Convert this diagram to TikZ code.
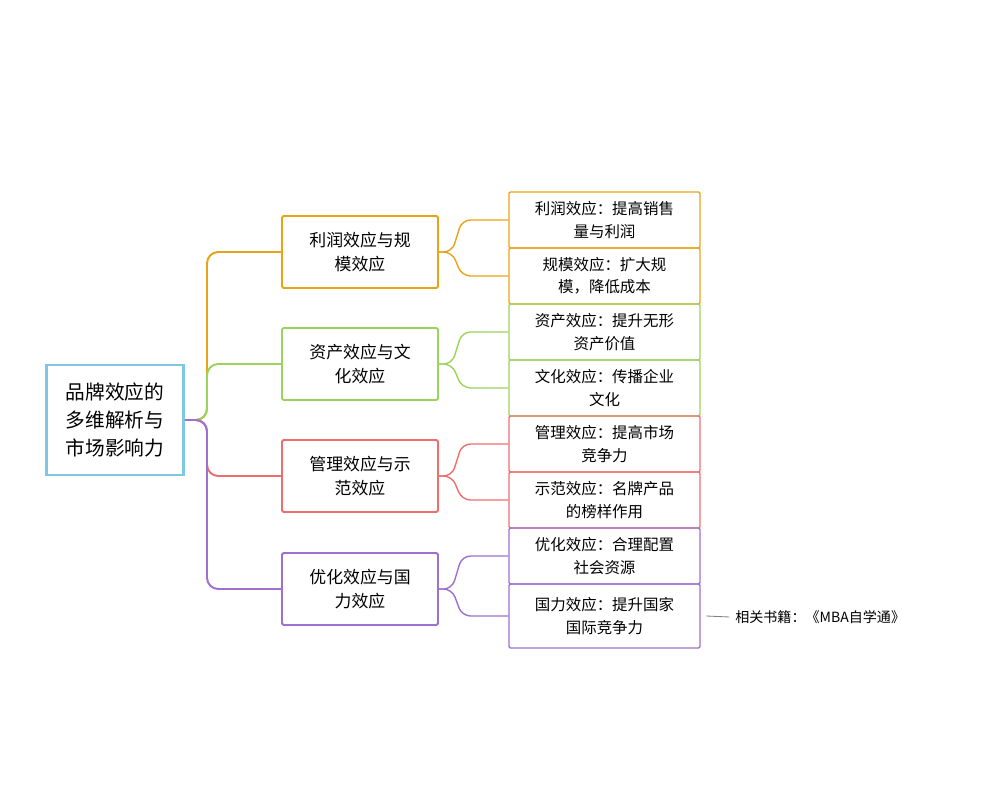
\documentclass[tikz,border=0pt]{standalone}
\usepackage{fontspec}
\setmainfont{Noto Sans CJK SC}
\newfontfamily\cjk{Noto Sans CJK SC}
\definecolor{rootc}{HTML}{7EC8E3}
\definecolor{orangec}{HTML}{E8A317}
\definecolor{greenc}{HTML}{9BD45A}
\definecolor{redc}{HTML}{EE6E6E}
\definecolor{purplec}{HTML}{A070D0}
\tikzset{
  rootbox/.style={draw=rootc, line width=2pt, align=center, font=\cjk\fontsize{14}{20}\selectfont,
    minimum width=137*0.025cm, minimum height=110*0.025cm, inner sep=2pt},
  midbox/.style={draw=#1, line width=1.4pt, rounded corners=1pt, align=center, text width=3.4cm,
    font=\cjk\fontsize{12}{17}\selectfont, minimum width=156*0.025cm, minimum height=72*0.025cm},
  leafbox/.style={draw=#1, line width=1pt, rounded corners=1pt, align=center, text width=4.3cm,
    font=\cjk\fontsize{11}{16}\selectfont, minimum width=191*0.025cm, minimum height=56*0.025cm, inner sep=1pt},
  link/.style={draw=#1, line width=1.4pt, rounded corners=8},
  brace/.style={draw=#1, line width=1pt, rounded corners=6}
}
\begin{document}
\begin{tikzpicture}[x=0.025cm, y=-0.025cm]
\useasboundingbox (0,0) rectangle (1000,800);
% racine
\node[rootbox] (root) at (115,420) {品牌效应的\\多维解析与\\市场影响力};
% branches
\node[midbox=orangec] (m1) at (360,252) {利润效应与规\\模效应};
\node[midbox=greenc] (m2) at (360,364) {资产效应与文\\化效应};
\node[midbox=redc] (m3) at (360,476) {管理效应与示\\范效应};
\node[midbox=purplec] (m4) at (360,589) {优化效应与国\\力效应};
% feuilles
\node[leafbox=orangec] (l1) at (604.5,220) {利润效应：提高销售\\量与利润};
\node[leafbox=orangec] (l2) at (604.5,276) {规模效应：扩大规\\模，降低成本};
\node[leafbox=greenc] (l3) at (604.5,332) {资产效应：提升无形\\资产价值};
\node[leafbox=greenc] (l4) at (604.5,388) {文化效应：传播企业\\文化};
\node[leafbox=redc] (l5) at (604.5,444) {管理效应：提高市场\\竞争力};
\node[leafbox=redc] (l6) at (604.5,500) {示范效应：名牌产品\\的榜样作用};
\node[leafbox=purplec] (l7) at (604.5,556) {优化效应：合理配置\\社会资源};
\node[leafbox=purplec, minimum height=64*0.025cm] (l8) at (604.5,616) {国力效应：提升国家\\国际竞争力};
% liens racine
\draw[link=orangec] (root.east) -- (207,420) -- (207,252) -- (m1.west);
\draw[link=greenc] (root.east) -- (207,420) -- (207,364) -- (m2.west);
\draw[link=redc] (root.east) -- (207,420) -- (207,476) -- (m3.west);
\draw[link=purplec] (root.east) -- (207,420) -- (207,589) -- (m4.west);
% accolades
\foreach \m/\a/\b/\c in {m1/l1/l2/orangec, m2/l3/l4/greenc, m3/l5/l6/redc, m4/l7/l8/purplec}{
  \draw[brace=\c] (\m.east) -- (452,0 |- \m.east) -- (462,0 |- \a.west) -- (\a.west);
  \draw[brace=\c] (\m.east) -- (452,0 |- \m.east) -- (462,0 |- \b.west) -- (\b.west);
}
% livre
\coordinate (bk) at (735,617);
\draw[gray, line width=0.6pt] ([xshift=4pt]l8.east) -- ([xshift=-4pt]bk);
\node[anchor=west, inner sep=0pt, font=\cjk\fontsize{10}{12}\selectfont] (book) at (bk) {相关书籍：《MBA自学通》};
\end{tikzpicture}
\end{document}
